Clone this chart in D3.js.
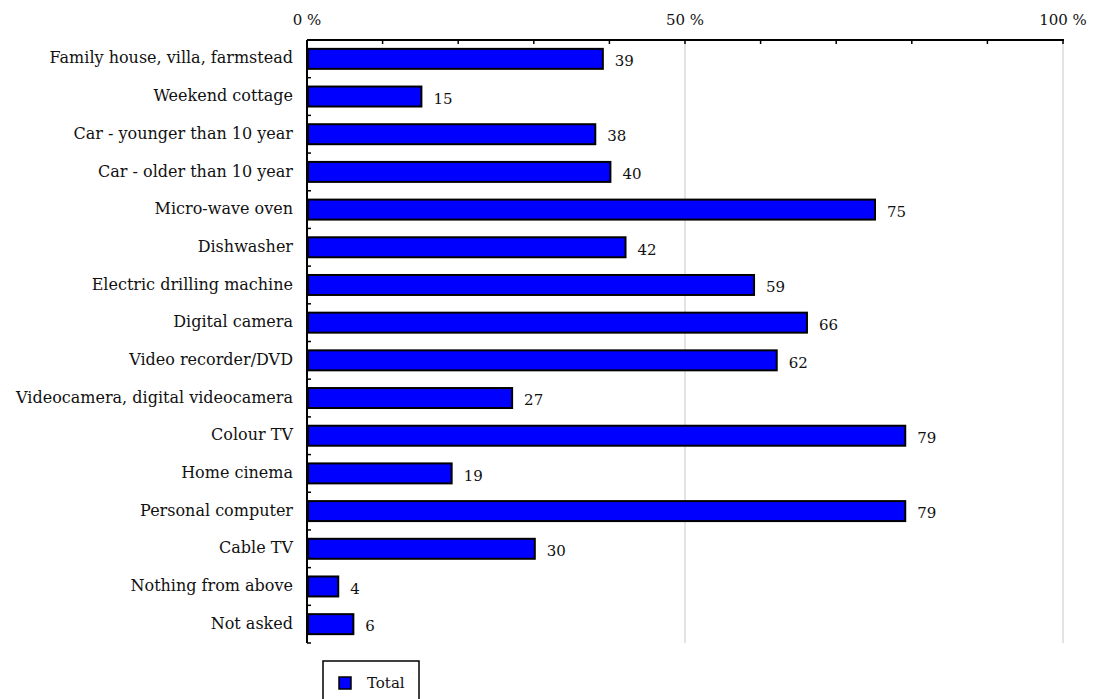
<!DOCTYPE html>
<html><head><meta charset="utf-8">
<script src="https://cdn.jsdelivr.net/npm/d3@7"></script>
<style>body{margin:0;background:#fff;} svg{display:block;}</style>
</head><body>
<svg id="c" width="1101" height="699"></svg>
<script>
const categories = ["Family house, villa, farmstead","Weekend cottage","Car - younger than 10 year","Car - older than 10 year","Micro-wave oven","Dishwasher","Electric drilling machine","Digital camera","Video recorder/DVD","Videocamera, digital videocamera","Colour TV","Home cinema","Personal computer","Cable TV","Nothing from above","Not asked"];
const values = [39,15,38,40,75,42,59,66,62,27,79,19,79,30,4,6];
const tickValues = [0,50,100];
const tickLabels = ["0 %","50 %","100 %"];
const minorTicks = [0,10,20,30,40,50,60,70,80,90,100];
const seriesName = "Total";

const FONT = "'DejaVu Serif', serif";
const FS = 16;
const svg = d3.select("#c");
const pL = 307, pR = 1063, pT = 40, pB = 643;
const x = d3.scaleLinear().domain([0,100]).range([pL,pR]);
const y = d3.scaleBand().domain(categories).range([pT,pB]).paddingInner(0.47).paddingOuter(0.235);
const yb = d3.scaleBand().domain(categories).range([pT,pB]);

// gridlines
svg.append("g").selectAll("line").data(tickValues.filter(d=>d>0)).join("line")
  .attr("x1",d=>x(d)).attr("x2",d=>x(d)).attr("y1",pT).attr("y2",pB)
  .attr("stroke","#c8c8c8").attr("stroke-width",1);

// top axis
const gx = svg.append("g");
gx.append("line").attr("x1",pL).attr("x2",pR+1).attr("y1",pT).attr("y2",pT).attr("stroke","#000").attr("stroke-width",2);
gx.selectAll("line.t").data(minorTicks).join("line").attr("class","t")
  .attr("x1",d=>x(d)).attr("x2",d=>x(d)).attr("y1",pT).attr("y2",pT+4).attr("stroke","#000").attr("stroke-width",1.5);
gx.selectAll("text").data(tickValues).join("text")
  .attr("x",d=>x(d)).attr("y",pT-15).attr("text-anchor","middle")
  .attr("font-family",FONT).attr("font-size",FS-1).attr("fill","#111")
  .text((d,i)=>tickLabels[i]);

// left axis
const gy = svg.append("g");
gy.append("line").attr("x1",pL).attr("x2",pL).attr("y1",pT).attr("y2",pB).attr("stroke","#000").attr("stroke-width",2);
const bounds = categories.map(c=>yb(c)).concat([pB]);
gy.selectAll("line.t").data(bounds).join("line").attr("class","t")
  .attr("x1",pL).attr("x2",pL+4).attr("y1",d=>d).attr("y2",d=>d).attr("stroke","#000").attr("stroke-width",1.5);
gy.selectAll("text").data(categories).join("text")
  .attr("x",pL-14).attr("y",d=>y(d)+y.bandwidth()/2-1).attr("dy","0.35em")
  .attr("text-anchor","end").attr("font-family",FONT).attr("font-size",FS).attr("fill","#111")
  .text(d=>d);

// bars
svg.append("g").selectAll("rect").data(values).join("rect")
  .attr("x",x(0)+1).attr("y",(d,i)=>y(categories[i]))
  .attr("width",d=>x(d)-x(0)).attr("height",y.bandwidth())
  .attr("fill","#0000ff").attr("stroke","#000").attr("stroke-width",2);

// value labels
svg.append("g").selectAll("text").data(values).join("text")
  .attr("x",d=>x(d)+13).attr("y",(d,i)=>y(categories[i])+y.bandwidth()/2+2).attr("dy","0.35em")
  .attr("font-family",FONT).attr("font-size",FS-1).attr("fill","#111")
  .text(d=>d);

// legend
const lg = svg.append("g");
lg.append("rect").attr("x",323).attr("y",661).attr("width",96).attr("height",50).attr("fill","#fff").attr("stroke","#000").attr("stroke-width",1.5);
lg.append("rect").attr("x",339).attr("y",677).attr("width",12).attr("height",12).attr("fill","#0000ff").attr("stroke","#000").attr("stroke-width",1.5);
lg.append("text").attr("x",367).attr("y",683).attr("dy","0.35em").attr("font-family",FONT).attr("font-size",FS-1).attr("fill","#111").text(seriesName);
</script>
</body></html>
